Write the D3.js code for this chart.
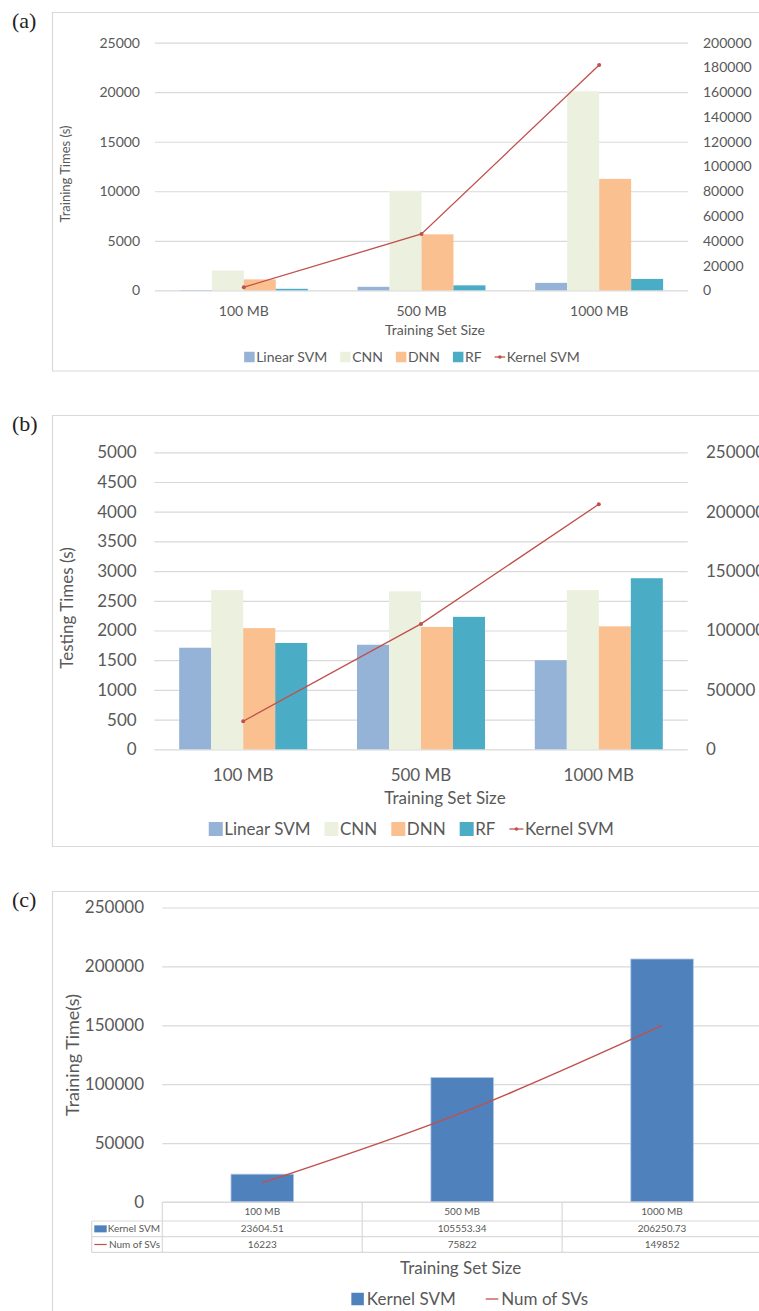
<!DOCTYPE html>
<html>
<head>
<meta charset="utf-8">
<script src="https://cdn.jsdelivr.net/npm/d3@7"></script>
<style>
  html, body { margin: 0; padding: 0; background: #ffffff; }
  svg { display: block; }
</style>
</head>
<body>
<svg id="chart" width="759" height="1311"></svg>
<script>
// ---------- data ----------
const categories = ["100 MB", "500 MB", "1000 MB"];
const barSeries = ["Linear SVM", "CNN", "DNN", "RF"];
const lineSeries = "Kernel SVM";

// (a) training times in seconds (bars: left axis, Kernel SVM: right axis)
const trainLinearSVM = [30, 350, 750];
const trainCNN = [2000, 10050, 20100];
const trainDNN = [1100, 5650, 11250];
const trainRF = [150, 500, 1150];
const trainKernelSVM = [2500, 45500, 182000];
const trainLeftTicks = [0, 5000, 10000, 15000, 20000, 25000];
const trainRightTicks = [0, 20000, 40000, 60000, 80000, 100000, 120000, 140000, 160000, 180000, 200000];

// (b) testing times in seconds
const testLinearSVM = [1710, 1760, 1500];
const testCNN = [2680, 2660, 2680];
const testDNN = [2040, 2060, 2070];
const testRF = [1790, 2230, 2880];
const testKernelSVM = [23604.51, 105553.34, 206250.73];
const testLeftTicks = [0, 500, 1000, 1500, 2000, 2500, 3000, 3500, 4000, 4500, 5000];
const testRightTicks = [0, 50000, 100000, 150000, 200000, 250000];

// (c) kernel SVM training time and number of support vectors
const kernelSVMTime = [23604.51, 105553.34, 206250.73];
const kernelSVMTimeLabels = ["23604.51", "105553.34", "206250.73"];
const numSVs = [16223, 75822, 149852];
const timeTicks = [0, 50000, 100000, 150000, 200000, 250000];

// ---------- styles ----------
const FONT = "Lato, 'Open Sans', sans-serif";
const SERIF = "'Liberation Serif', 'DejaVu Serif', serif";
const TEXT = "#595959";
const GRID = "#d9d9d9";
const FRAME = "#d9d9d9";
const barColors = ["#95B3D7", "#EBF1DE", "#FAC090", "#4BACC6"];
const lineColor = "#C0504D";
const kernelBlue = "#4F81BD";

const svg = d3.select("#chart");

function frame(y0, y1, label, labelY) {
  svg.append("path")
    .attr("d", `M800,${y0}H52.5V${y1}H800`)
    .attr("fill", "none").attr("stroke", FRAME).attr("stroke-width", 1.2);
  svg.append("text")
    .attr("x", 12).attr("y", labelY)
    .attr("font-family", SERIF).attr("font-size", 22).attr("fill", "#222")
    .text(label);
}

function styleAxis(g, size) {
  g.select(".domain").remove();
  g.selectAll("text").attr("font-family", FONT).attr("font-size", size).attr("fill", TEXT);
}

// legend laid out left to right, centred on cx
function legend(items, cx, cy, size, sw, textGap, itemGap) {
  const g = svg.append("g");
  const nodes = items.map(it => {
    const ig = g.append("g");
    if (it.type === "rect") {
      ig.append("rect").attr("x", 0).attr("y", cy - sw / 2).attr("width", sw).attr("height", sw)
        .attr("fill", it.color);
    } else {
      ig.append("line").attr("x1", 0).attr("x2", sw).attr("y1", cy).attr("y2", cy)
        .attr("stroke", it.color).attr("stroke-width", 1.3);
      if (it.marker) ig.append("circle").attr("cx", sw / 2).attr("cy", cy).attr("r", 1.8).attr("fill", it.color);
    }
    const t = ig.append("text").attr("x", sw + textGap).attr("y", cy).attr("dy", "0.35em")
      .attr("font-family", FONT).attr("font-size", size).attr("fill", TEXT).text(it.name);
    return { ig, w: sw + textGap + t.node().getComputedTextLength() };
  });
  const total = d3.sum(nodes, n => n.w) + itemGap * (nodes.length - 1);
  let x = cx - total / 2;
  nodes.forEach(n => { n.ig.attr("transform", `translate(${x},0)`); x += n.w + itemGap; });
}

// grouped bars with a secondary-axis line
function groupedPanel(cfg) {
  const x = d3.scaleBand().domain(categories).range([cfg.x0, cfg.x1]).paddingInner(0.28).paddingOuter(0.14);
  const xs = d3.scaleBand().domain(barSeries).range([0, x.bandwidth()]);
  const y = d3.scaleLinear().domain(cfg.leftDomain).range([cfg.yBase, cfg.yTop]);
  const yR = d3.scaleLinear().domain(cfg.rightDomain).range([cfg.yBase, cfg.yTop]);

  const gl = svg.append("g").attr("transform", `translate(${cfg.x0},0)`)
    .call(d3.axisLeft(y).tickValues(cfg.leftTicks).tickSize(-(cfg.x1 - cfg.x0)).tickPadding(cfg.leftPad).tickFormat(d3.format("d")));
  styleAxis(gl, cfg.tickSize);
  gl.selectAll("line").attr("stroke", GRID).attr("stroke-width", 1.2);

  const gr = svg.append("g").attr("transform", `translate(${cfg.x1},0)`)
    .call(d3.axisRight(yR).tickValues(cfg.rightTicks).tickSize(0).tickPadding(cfg.rightPad).tickFormat(d3.format("d")));
  styleAxis(gr, cfg.tickSize);
  gr.selectAll("line").remove();

  const gb = svg.append("g").attr("transform", `translate(0,${cfg.yBase})`)
    .call(d3.axisBottom(x).tickSize(0));
  styleAxis(gb, cfg.catSize);
  gb.selectAll("text").attr("y", cfg.catY - cfg.yBase).attr("dy", "0.35em");

  const rows = cfg.values.map((vals, si) => vals.map((v, ci) => ({ s: barSeries[si], c: categories[ci], v, si })));
  svg.append("g").selectAll("rect").data(rows.flat()).join("rect")
    .attr("x", d => x(d.c) + xs(d.s))
    .attr("y", d => y(d.v))
    .attr("width", xs.bandwidth())
    .attr("height", d => cfg.yBase - y(d.v))
    .attr("fill", d => barColors[d.si]);

  const pts = cfg.lineValues.map((v, i) => ({ c: categories[i], v }));
  const lineGen = d3.line().x(d => x(d.c) + x.bandwidth() / 2).y(d => yR(d.v));
  svg.append("path").datum(pts).attr("d", lineGen)
    .attr("fill", "none").attr("stroke", lineColor).attr("stroke-width", 1.3);
  svg.append("g").selectAll("circle").data(pts).join("circle")
    .attr("cx", d => x(d.c) + x.bandwidth() / 2).attr("cy", d => yR(d.v)).attr("r", 2)
    .attr("fill", lineColor);

  svg.append("text").attr("x", cfg.xTitleX).attr("y", cfg.xTitleY).attr("dy", "0.35em")
    .attr("text-anchor", "middle").attr("font-family", FONT).attr("font-size", cfg.titleSize)
    .attr("fill", TEXT).text("Training Set Size");
  svg.append("text").attr("transform", `translate(${cfg.yTitleX},${cfg.yTitleY}) rotate(-90)`)
    .attr("dy", "0.35em").attr("text-anchor", "middle").attr("font-family", FONT)
    .attr("font-size", cfg.yTitleSize).attr("fill", TEXT).text(cfg.yTitle);

  const items = barSeries.map((s, i) => ({ name: s, type: "rect", color: barColors[i] }))
    .concat([{ name: lineSeries, type: "line", color: lineColor, marker: true }]);
  legend(items, cfg.legendX, cfg.legendY, cfg.legendSize, cfg.swatch, 1.5, cfg.itemGap);
}

// ---------- (a) ----------
frame(12.5, 371, "(a)", 28);
groupedPanel({
  x0: 155, x1: 688, yBase: 290.3, yTop: 42.7,
  leftDomain: [0, 25000], rightDomain: [0, 200000],
  leftTicks: trainLeftTicks, rightTicks: trainRightTicks,
  leftPad: 15, rightPad: 15, tickSize: 14,
  catY: 311, catSize: 14,
  values: [trainLinearSVM, trainCNN, trainDNN, trainRF], lineValues: trainKernelSVM,
  xTitleX: 435, xTitleY: 330, titleSize: 14,
  yTitle: "Training Times (s)", yTitleX: 65, yTitleY: 174, yTitleSize: 13,
  legendX: 412, legendY: 357, legendSize: 14, swatch: 10.5, itemGap: 13
});

// ---------- (b) ----------
frame(415.5, 846.5, "(b)", 431);
groupedPanel({
  x0: 154.3, x1: 687.7, yBase: 749.3, yTop: 452.3,
  leftDomain: [0, 5000], rightDomain: [0, 250000],
  leftTicks: testLeftTicks, rightTicks: testRightTicks,
  leftPad: 17.6, rightPad: 18.3, tickSize: 17,
  catY: 775, catSize: 17,
  values: [testLinearSVM, testCNN, testDNN, testRF], lineValues: testKernelSVM,
  xTitleX: 445, xTitleY: 797.7, titleSize: 17,
  yTitle: "Testing Times (s)", yTitleX: 67, yTitleY: 608, yTitleSize: 17,
  legendX: 411.3, legendY: 829, legendSize: 17, swatch: 14, itemGap: 14
});

// ---------- (c) ----------
frame(891.5, 1330, "(c)", 907);
(function () {
  const x0 = 162.3, x1 = 762, yBase = 1202, yTop = 907.5;
  const x = d3.scaleBand().domain(categories).range([x0, x1]).paddingInner(0.6875).paddingOuter(0.34375);
  const y = d3.scaleLinear().domain([0, 250000]).range([yBase, yTop]);

  const gl = svg.append("g").attr("transform", `translate(${x0},0)`)
    .call(d3.axisLeft(y).tickValues(timeTicks).tickSize(-(x1 - x0 + 40)).tickPadding(18.3).tickFormat(d3.format("d")));
  styleAxis(gl, 17);
  gl.selectAll("line").attr("stroke", GRID).attr("stroke-width", 1.2);

  svg.append("g").selectAll("rect").data(kernelSVMTime).join("rect")
    .attr("x", (d, i) => x(categories[i]))
    .attr("y", d => y(d))
    .attr("width", x.bandwidth())
    .attr("height", d => yBase - y(d))
    .attr("fill", kernelBlue).attr("stroke", "#a9c2e2").attr("stroke-width", 0.8);

  const cx = (d, i) => x(categories[i]) + x.bandwidth() / 2;
  svg.append("path").datum(numSVs)
    .attr("d", d3.line().x(cx).y(d => y(d)).curve(d3.curveCardinal.tension(0)))
    .attr("fill", "none").attr("stroke", lineColor).attr("stroke-width", 1.4);

  // data table under the plot
  const rowY = [yBase, 1221, 1236.7, 1252.3];
  const keyX = 91.7;
  const t = svg.append("g").attr("stroke", GRID).attr("stroke-width", 1.2);
  t.append("line").attr("x1", x0).attr("x2", 800).attr("y1", rowY[0]).attr("y2", rowY[0]);
  [1, 2, 3].forEach(r => t.append("line").attr("x1", keyX).attr("x2", 800).attr("y1", rowY[r]).attr("y2", rowY[r]));
  t.append("line").attr("x1", keyX).attr("x2", keyX).attr("y1", rowY[1]).attr("y2", rowY[3]);
  [x0].concat(categories.map(c => x(c) - x.step() * 0.34375 + x.step())).forEach(vx =>
    t.append("line").attr("x1", vx).attr("x2", vx).attr("y1", rowY[0]).attr("y2", rowY[3]));

  const cell = (tx, ty, str, anchor) => svg.append("text").attr("x", tx).attr("y", ty).attr("dy", "0.35em")
    .attr("text-anchor", anchor || "middle").attr("font-family", FONT).attr("font-size", 10)
    .attr("fill", TEXT).text(str);
  categories.forEach((c, i) => {
    const mx = x(c) + x.bandwidth() / 2;
    cell(mx, (rowY[0] + rowY[1]) / 2, c);
    cell(mx, (rowY[1] + rowY[2]) / 2, kernelSVMTimeLabels[i]);
    cell(mx, (rowY[2] + rowY[3]) / 2, d3.format("d")(numSVs[i]));
  });
  svg.append("rect").attr("x", 94.3).attr("y", (rowY[1] + rowY[2]) / 2 - 3.5).attr("width", 12.4).attr("height", 7)
    .attr("fill", kernelBlue);
  cell(160, (rowY[1] + rowY[2]) / 2, "Kernel SVM", "end");
  svg.append("line").attr("x1", 94.3).attr("x2", 106.7)
    .attr("y1", (rowY[2] + rowY[3]) / 2).attr("y2", (rowY[2] + rowY[3]) / 2)
    .attr("stroke", lineColor).attr("stroke-width", 1.2);
  cell(160, (rowY[2] + rowY[3]) / 2, "Num of SVs", "end");

  svg.append("text").attr("x", 460.7).attr("y", 1268.3).attr("dy", "0.35em")
    .attr("text-anchor", "middle").attr("font-family", FONT).attr("font-size", 17)
    .attr("fill", TEXT).text("Training Set Size");
  svg.append("text").attr("transform", "translate(73,1055) rotate(-90)")
    .attr("dy", "0.35em").attr("text-anchor", "middle").attr("font-family", FONT)
    .attr("font-size", 18).attr("fill", TEXT).text("Training Time(s)");

  legend([
    { name: "Kernel SVM", type: "rect", color: kernelBlue },
    { name: "Num of SVs", type: "line", color: lineColor, marker: false }
  ], 469.7, 1299, 17, 12.5, 3, 30);
})();
</script>
</body>
</html>
